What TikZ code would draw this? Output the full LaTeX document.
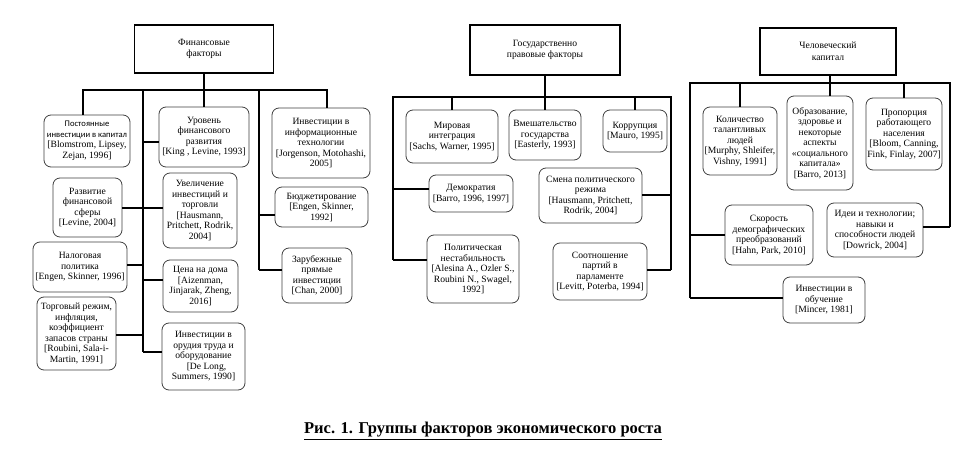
\documentclass[tikz,border=0pt]{standalone}
\usepackage{fontspec}
\setmainfont{Liberation Serif}
\newfontfamily\sansf{Carlito}
\newcommand{\smsans}{\sansf\fontsize{8.6}{10}\selectfont}
\definecolor{bgray}{HTML}{404040}
\tikzset{
  rbox/.style={draw=bgray, line width=0.8pt, rounded corners=7pt, align=center,
    inner xsep=1pt, inner ysep=1pt, font=\fontsize{9.6}{10.5}\selectfont},
  tbox/.style={draw=black, line width=1.8pt, align=center, font=\fontsize{9.6}{11.5}\selectfont},
  sz/.style 2 args={minimum width=#1pt, minimum height=#2pt},
  conn/.style={line width=1.8pt, draw=black},
}
\begin{document}
\begin{tikzpicture}[x=1pt,y=-1pt]
\useasboundingbox (0,0) rectangle (970,471);
\fill[white] (0,0) rectangle (970,471);

% ---------------- Financial factors ----------------
\node[tbox, sz={139}{48}] (F0) at (204,49) {Финансовые\\факторы};
\node[rbox, sz={86}{52}] (F1) at (87,141) {{\smsans Постоянные}\\{\smsans инвестиции в капитал}\\{}[Blomstrom, Lipsey,\\Zejan, 1996]};
\node[rbox, sz={90}{60}] (F2) at (204,137) {Уровень\\финансового\\развития\\{}[King , Levine, 1993]};
\node[rbox, sz={69}{59}] (F3) at (87.5,207.5) {Развитие\\финансовой\\сферы\\{}[Levine, 2004]};
\node[rbox, sz={74}{75}] (F4) at (200,210.5) {Увеличение\\инвестиций и\\торговли\\{}[Hausmann,\\Pritchett, Rodrik,\\2004]};
\node[rbox, sz={94}{50}] (F5) at (80,267) {Налоговая\\политика\\{}[Engen, Skinner, 1996]};
\node[rbox, sz={75}{52}] (F6) at (200.5,286) {Цена на дома\\{}[Aizenman,\\Jinjarak, Zheng,\\2016]};
\node[rbox, sz={79}{73}] (F7) at (76.5,333.5) {Торговый режим,\\инфляция,\\коэффициент\\запасов страны\\{}[Roubini, Sala-i-\\Martin, 1991]};
\node[rbox, sz={83}{67}] (F8) at (203.5,356.5) {Инвестиции в\\орудия труда и\\оборудование\\\hspace*{6pt}[De Long,\\Summers, 1990]};
\node[rbox, sz={98}{70}] (F9) at (321,143) {Инвестиции в\\информационные\\технологии\\{}[Jorgenson, Motohashi,\\2005]};
\node[rbox, sz={93}{40}] (F10) at (321.5,207) {Бюджетирование\\{}[Engen, Skinner,\\1992]};
\node[rbox, sz={70}{55}] (F11) at (317,275.5) {Зарубежные\\прямые\\инвестиции\\{}[Chan, 2000]};

\coordinate (fL) at (83,90);
\coordinate (fR) at (327,90);
\coordinate (fS1) at (143,90);
\coordinate (fS2) at (259,90);
\coordinate (f2) at (143,142);
\coordinate (f34) at (143,208);
\coordinate (f5) at (143,265);
\coordinate (f6) at (143,280);
\coordinate (f7) at (143,335);
\coordinate (f8) at (143,352);
\coordinate (f10) at (259,215);
\coordinate (f11) at (259,270);

\draw[conn] (F0.south) -- (F2.north);
\draw[conn] (fL |- F1.north) -- (fL) -- (fR) -- (fR |- F9.north);
\draw[conn] (fS1) -- (f8);
\draw[conn] (fS2) -- (f11);
\draw[conn] (f2) -- (f2 -| F2.west);
\draw[conn] (f34 -| F3.east) -- (f34 -| F4.west);
\draw[conn] (f5 -| F5.east) -- (f5);
\draw[conn] (f6) -- (f6 -| F6.west);
\draw[conn] (f7 -| F7.east) -- (f7);
\draw[conn] (f8) -- (f8 -| F8.west);
\draw[conn] (f10) -- (f10 -| F10.west);
\draw[conn] (f11) -- (f11 -| F11.west);

% ---------------- State-legal factors ----------------
\node[tbox, sz={150}{50}] (G0) at (545,50) {Государственно\\правовые факторы};
\node[rbox, sz={92}{53}] (G1) at (452,136.5) {Мировая\\интеграция\\{}[Sachs, Warner, 1995]};
\node[rbox, sz={72}{50}] (G2) at (545,135) {Вмешательство\\государства\\{}[Easterly, 1993]};
\node[rbox, sz={64}{42}] (G3) at (635,131) {Коррупция\\{}[Mauro, 1995]};
\node[rbox, sz={84}{37}] (G4) at (471,193.5) {Демократия\\{}[Barro, 1996, 1997]};
\node[rbox, sz={103}{55}] (G5) at (590.5,195.5) {Смена политического\\режима\\{}[Hausmann, Pritchett,\\Rodrik, 2004]};
\node[rbox, sz={92}{68}] (G6) at (473,269) {Политическая\\нестабильность\\{}[Alesina A., Ozler S.,\\Roubini N., Swagel,\\1992]};
\node[rbox, sz={94}{57}] (G7) at (600,271.5) {Соотношение\\партий в\\парламенте\\{}[Levitt, Poterba, 1994]};

\coordinate (gL) at (393,97);
\coordinate (gR) at (671,97);
\coordinate (g4) at (393,189);
\coordinate (g6) at (393,260);
\coordinate (g5) at (671,195);
\coordinate (g7) at (671,270);

\draw[conn] (G0.south) -- (G2.north);
\draw[conn] (g6) -- (gL) -- (gR) -- (g7);
\draw[conn] (G1.north) -- (G1.north |- gL);
\draw[conn] (G3.north) -- (G3.north |- gR);
\draw[conn] (g4) -- (g4 -| G4.west);
\draw[conn] (g6) -- (g6 -| G6.west);
\draw[conn] (g5 -| G5.east) -- (g5);
\draw[conn] (g7 -| G7.east) -- (g7);

% ---------------- Human capital ----------------
\node[tbox, sz={136}{47}] (H0) at (828,51.5) {Человеческий\\капитал};
\node[rbox, sz={74}{68}] (H1) at (740,141) {Количество\\талантливых\\людей\\{}[Murphy, Shleifer,\\Vishny, 1991]};
\node[rbox, sz={66}{94}] (H2) at (820,143) {Образование,\\здоровье и\\некоторые\\аспекты\\«социального\\капитала»\\{}[Barro, 2013]};
\node[rbox, sz={76}{72}] (H3) at (904,134) {Пропорция\\работающего\\населения\\{}[Bloom, Canning,\\Fink, Finlay, 2007]};
\node[rbox, sz={88}{60}] (H4) at (769,235) {Скорость\\демографических\\преобразований\\{}[Hahn, Park, 2010]};
\node[rbox, sz={96}{54}] (H5) at (875,230) {Идеи и технологии;\\навыки и\\способности людей\\{}[Dowrick, 2004]};
\node[rbox, sz={82}{46}] (H6) at (824,300) {Инвестиции в\\обучение\\{}[Mincer, 1981]};

\coordinate (hL) at (690,83);
\coordinate (hR) at (950,83);
\coordinate (hM) at (830,83);
\coordinate (h4) at (690,235);
\coordinate (h6) at (690,298);
\coordinate (h5) at (950,227);

\draw[conn] (hM |- H0.south) -- (hM |- H2.north);
\draw[conn] (h6) -- (hL) -- (hR) -- (h5);
\draw[conn] (H1.north) -- (H1.north |- hL);
\draw[conn] (H3.north) -- (H3.north |- hR);
\draw[conn] (h4) -- (h4 -| H4.west);
\draw[conn] (h6) -- (h6 -| H6.west);
\draw[conn] (h5 -| H5.east) -- (h5);

% ---------------- Caption ----------------
\node[font=\fontsize{16.5}{19}\selectfont\bfseries] (cap) at (483,431) {\underline{Рис. 1. Группы факторов экономического роста}};
\end{tikzpicture}
\end{document}
